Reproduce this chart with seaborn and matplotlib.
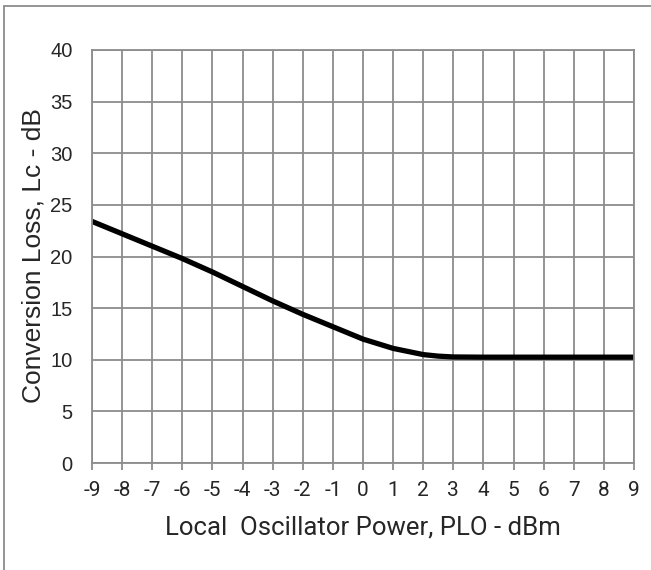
import numpy as np
import pandas as pd
import matplotlib
matplotlib.use("Agg")
import matplotlib.pyplot as plt
import seaborn as sns
from matplotlib.lines import Line2D

# -------------------------------
# Data
# -------------------------------
lo_power = [-9, -8, -7, -6, -5, -4, -3, -2, -1, 0, 1, 2, 2.5, 3, 4, 5, 6, 7, 8, 9]
conv_loss = [23.4, 22.2, 21.0, 19.8, 18.5, 17.1, 15.7, 14.4, 13.2, 12.0,
             11.1, 10.5, 10.35, 10.27, 10.25, 10.25, 10.25, 10.25, 10.25, 10.25]
x_ticks = list(range(-9, 10))
y_ticks = list(range(0, 41, 5))

df = pd.DataFrame({"PLO": lo_power, "Lc": conv_loss})

# -------------------------------
# Figure
# -------------------------------
sns.set_style("white")
fig = plt.figure(figsize=(6.51, 5.70), dpi=100)
ax = fig.add_axes([0.1413, 0.1877, 0.9739 - 0.1413, 0.9123 - 0.1877])

sns.lineplot(data=df, x="PLO", y="Lc", ax=ax, color="black", linewidth=3.8,
             solid_capstyle="butt")

ax.set_xlim(-9, 9)
ax.set_ylim(0, 40)
ax.set_xticks(x_ticks)
ax.set_yticks(y_ticks)
ax.set_xticklabels([str(v) for v in x_ticks], family="Roboto", fontsize=15)
ax.set_yticklabels([str(v) for v in y_ticks], family="Liberation Sans", fontsize=14.5)

ax.grid(True, color="#8c8c8c", linewidth=1.3)
ax.set_axisbelow(True)
for s in ax.spines.values():
    s.set_color("#8c8c8c")
    s.set_linewidth(1.3)

ax.tick_params(axis="x", length=5, width=1.3, color="#8c8c8c", pad=8, direction="out",
               bottom=True)
ax.tick_params(axis="y", length=0, pad=14)

# axis labels
ax.set_xlabel("Local  Oscillator Power, PLO - dBm", family="Roboto", fontsize=18.5,
              va="center")
ax.xaxis.set_label_coords(0.5, -0.155)
ax.set_ylabel("Conversion Loss, Lc - dB", family="Liberation Sans", fontsize=19,
              va="center")
ax.yaxis.set_label_coords(-0.108, 0.503)

# outer frame (top and left only)
fig.add_artist(Line2D([0.0065, 1.0], [0.9886, 0.9886], color="#8c8c8c", linewidth=1.3,
                      transform=fig.transFigure))
fig.add_artist(Line2D([0.0065, 0.0065], [0.0, 0.9886], color="#8c8c8c", linewidth=1.3,
                      transform=fig.transFigure))

fig.savefig("out.png", dpi=100)
